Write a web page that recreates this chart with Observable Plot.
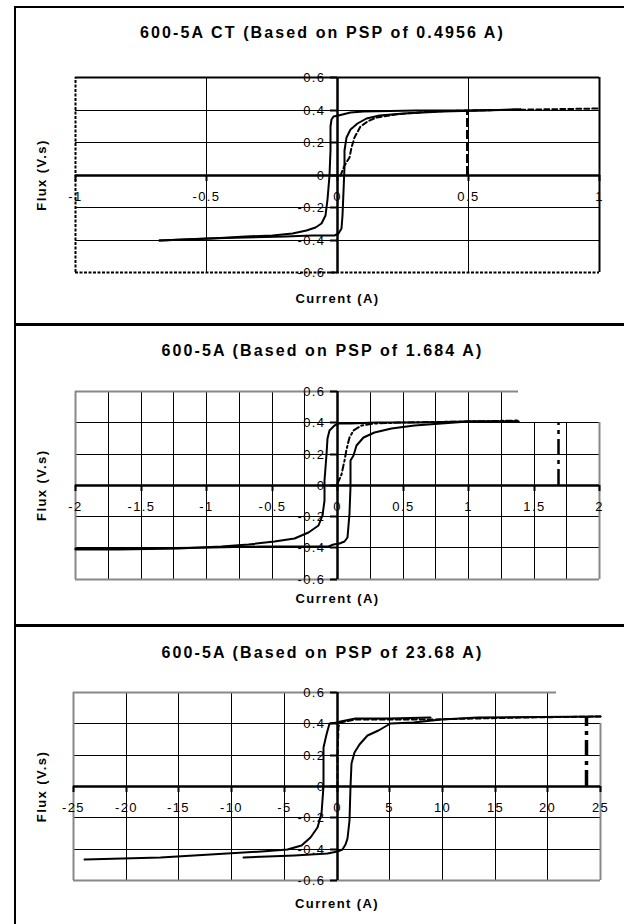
<!DOCTYPE html>
<html>
<head>
<meta charset="utf-8">
<script src="https://cdn.jsdelivr.net/npm/d3@7"></script>
<script src="https://cdn.jsdelivr.net/npm/@observablehq/plot@0.6"></script>
<style>
  body { margin: 0; background: #fff; }
  #root { position: relative; width: 624px; height: 924px; overflow: hidden; font-family: "Liberation Sans", Arial, sans-serif; }
  .bar { position: absolute; background: #000; }
</style>
</head>
<body>
<div id="root"></div>
<script>
// ---------------- DATA ----------------
const titles = [
  "600-5A CT (Based on PSP of 0.4956 A)",
  "600-5A (Based on PSP of 1.684 A)",
  "600-5A (Based on PSP of 23.68 A)"
];
const xLabel = "Current (A)";
const yLabel = "Flux (V.s)";

const xDomains = [[-1, 1], [-2, 2], [-25, 25]];
const yTicks = [0.6, 0.4, 0.2, 0, -0.2, -0.4, -0.6];
const xTicks1 = [-1, -0.5, 0, 0.5, 1];
const xTicks2 = [-2, -1.5, -1, -0.5, 0, 0.5, 1, 1.5, 2];
const xTicks3 = [-25, -20, -15, -10, -5, 0, 5, 10, 15, 20, 25];
const xGrid1 = [-0.5, 0.5];
const xGrid2 = [-1.75, -1.5, -1.25, -1, -0.75, -0.5, -0.25, 0.25, 0.5, 0.75, 1, 1.25, 1.5, 1.75];
const xGrid3 = [-20, -15, -10, -5, 5, 10, 15, 20];
// x value where the top border of each plot area stops
const topEnds = [1, 1.38, 20.8];

// PSP markers (x position and top flux of the vertical line)
const pspValues = [0.4956, 1.684, 23.68];
const pspTops = [0.395, 0.40, 0.44];

// Panel 1 : hysteresis loop branches and initial curve  [current, flux]
const p1Descending = [
  [0.70, 0.402], [0.5, 0.398], [0.3, 0.395], [0.1, 0.39], [0.05, 0.385], [0.02, 0.372],
  [0.005, 0.366], [-0.015, 0.362], [-0.022, 0.34], [-0.025, 0.30], [-0.028, 0.15],
  [-0.032, 0.0], [-0.038, -0.15], [-0.045, -0.25], [-0.06, -0.30], [-0.085, -0.322],
  [-0.12, -0.342], [-0.17, -0.36], [-0.25, -0.372], [-0.35, -0.38], [-0.48, -0.39], [-0.68, -0.40]
];
const p1Ascending = [
  [-0.68, -0.40], [-0.5, -0.393], [-0.35, -0.385], [-0.2, -0.376], [-0.1, -0.372],
  [-0.01, -0.37], [0.005, -0.36], [0.015, -0.33], [0.02, -0.25], [0.022, -0.1],
  [0.025, 0.05], [0.028, 0.15], [0.035, 0.23], [0.05, 0.28], [0.075, 0.315],
  [0.11, 0.345], [0.16, 0.366], [0.25, 0.38], [0.4, 0.39], [0.55, 0.398], [0.70, 0.402]
];
const p1Initial = [
  [0.012, 0.0], [0.025, 0.06], [0.044, 0.11], [0.055, 0.17], [0.063, 0.23], [0.088, 0.30],
  [0.113, 0.33], [0.15, 0.355], [0.22, 0.375], [0.35, 0.39], [0.5, 0.397], [0.75, 0.403], [1.0, 0.41]
];

// Panel 2
const p2Descending = [
  [1.38, 0.41], [1.0, 0.407], [0.6, 0.403], [0.3, 0.40], [0.1, 0.398], [0.01, 0.396],
  [-0.02, 0.38], [-0.06, 0.35], [-0.075, 0.30], [-0.085, 0.20], [-0.097, 0.03],
  [-0.10, -0.10], [-0.117, -0.195], [-0.147, -0.258], [-0.224, -0.305], [-0.326, -0.338],
  [-0.48, -0.358], [-0.68, -0.38], [-0.885, -0.392], [-1.216, -0.403], [-1.674, -0.41], [-2.0, -0.412]
];
const p2Ascending = [
  [-2.0, -0.405], [-1.5, -0.402], [-0.96, -0.397], [-0.58, -0.39], [-0.07, -0.39],
  [-0.03, -0.38], [0.018, -0.37], [0.056, -0.36], [0.08, -0.333], [0.094, -0.18],
  [0.10, -0.01], [0.10, 0.157], [0.12, 0.19], [0.145, 0.253], [0.196, 0.306],
  [0.285, 0.338], [0.412, 0.36], [0.59, 0.38], [0.794, 0.395], [1.0, 0.405], [1.38, 0.41]
];
const p2Initial = [
  [0.003, 0.01], [0.03, 0.07], [0.05, 0.16], [0.069, 0.23], [0.094, 0.306], [0.12, 0.35],
  [0.18, 0.38], [0.285, 0.398], [0.5, 0.402], [1.0, 0.408], [1.38, 0.412]
];

// Panel 3
const p3Descending = [
  [8.9, 0.44], [5, 0.437], [1.8, 0.432], [0.3, 0.415], [0, 0.41], [-0.73, 0.40],
  [-1.04, 0.33], [-1.26, 0.25], [-1.32, 0.0], [-1.5, -0.174], [-1.83, -0.26],
  [-2.5, -0.323], [-3.4, -0.377], [-4.7, -0.40], [-7.2, -0.415], [-12, -0.437],
  [-16.7, -0.455], [-24, -0.468]
];
const p3Ascending = [
  [-8.9, -0.455], [-4.05, -0.44], [-0.9, -0.43], [0, -0.415], [0.5, -0.40], [0.8, -0.37],
  [1.0, -0.33], [1.15, -0.217], [1.27, 0.0], [1.33, 0.145], [1.64, 0.22], [2.1, 0.27],
  [2.9, 0.325], [3.9, 0.357], [5.1, 0.40], [7.3, 0.41], [9.9, 0.425], [13.35, 0.442], [25, 0.447]
];
const p3Initial = [
  [0, 0], [0.05, 0.2], [0.1, 0.38], [0.35, 0.41], [1.8, 0.425], [5, 0.427], [9, 0.428],
  [13, 0.436], [18, 0.44], [25, 0.445]
];

// ---------------- LAYOUT / STYLE ----------------
const xTicksAll = [xTicks1, xTicks2, xTicks3];
const xGridAll = [xGrid1, xGrid2, xGrid3];
const loops = [
  [p1Descending, p1Ascending, p1Initial],
  [p2Descending, p2Ascending, p2Initial],
  [p3Descending, p3Ascending, p3Initial]
];
const layout = [
  {top: 0,   height: 310, mt: 77, mb: 38,   ml: 75, mr: 25, titleY: 32,  xLabelY: 298},
  {top: 310, height: 310, mt: 81, mb: 41.5, ml: 75, mr: 25, titleY: 350, xLabelY: 598},
  {top: 620, height: 304, mt: 72, mb: 44,   ml: 73, mr: 24, titleY: 652, xLabelY: 903}
];
const frameStyles = [
  {top: "#000", right: "#000", left: "#000", bottom: "#000", leftDash: "3,1.5", bottomDash: "3,1.5"},
  {top: "#888", right: "#888", left: "#888", bottom: "#888", leftDash: null, bottomDash: null},
  {top: "#888", right: "#888", left: "#888", bottom: "#888", leftDash: null, bottomDash: null}
];
const initialDash = ["5,3", "6,3,2,3", "5,3"];
const pspDash = ["9,3", "16,5,4,5", "16,5,4,5"];
const pspWidth = [3, 2.5, 3.5];
const W = 624;
const titleCX = 322;
const fluxCX = 41;

const fmt = d => String(d);
const root = document.getElementById("root");

function makePanel(i) {
  const L = layout[i];
  const F = frameStyles[i];
  const [x0, x1] = xDomains[i];
  const topEnd = topEnds[i];
  const yGrid = yTicks.filter(v => v !== 0 && Math.abs(v) !== 0.6);
  const yMax = d3.max(yTicks), yMin = d3.min(yTicks);
  const frameCX = (L.ml + W - L.mr) / 2;
  const plotTopPage = L.top + L.mt;
  const plotBottomPage = L.top + L.height - L.mb;
  const [desc, asc, init] = loops[i];

  const marks = [
    // interior grid
    Plot.ruleY(yGrid, {y: d => d, x1: x0, x2: x1, stroke: "#000", strokeWidth: 1}),
    Plot.ruleX(xGridAll[i], {x: d => d, y1: yMin, y2: d => (d > topEnd ? 0.4 : yMax), stroke: "#000", strokeWidth: 1}),
    // frame
    Plot.ruleY([yMax], {y: d => d, x1: x0, x2: topEnd, stroke: F.top, strokeWidth: 2}),
    Plot.ruleY([yMin], {y: d => d, x1: x0, x2: x1, stroke: F.bottom, strokeWidth: 2, strokeDasharray: F.bottomDash}),
    Plot.ruleX([x0], {x: d => d, y1: yMin, y2: yMax, stroke: F.left, strokeWidth: 2, strokeDasharray: F.leftDash}),
    Plot.ruleX([x1], {x: d => d, y1: yMin, y2: topEnd >= x1 ? yMax : 0.4, stroke: F.right, strokeWidth: 2}),
    // axes through the origin
    Plot.ruleY([0], {y: d => d, x1: x0, x2: x1, stroke: "#000", strokeWidth: 2.5}),
    Plot.ruleX([0], {x: d => d, y1: yMin, y2: yMax, stroke: "#000", strokeWidth: 2.5}),
    // tick marks
    Plot.ruleX(xTicksAll[i], {x: d => d, y1: 0, y2: 0, insetTop: 0, insetBottom: -6, stroke: "#000", strokeWidth: 2}),
    Plot.ruleY(yTicks, {y: d => d, x1: 0, x2: 0, insetLeft: -7, insetRight: 0, stroke: "#000", strokeWidth: 2}),
    // tick labels
    Plot.text(xTicksAll[i], {x: d => d, y: 0, dy: 21, text: fmt, fontSize: 13, fill: "#000"}),
    Plot.text(yTicks, {x: 0, y: d => d, dx: -12, textAnchor: "end", text: fmt, fontSize: 13, fill: "#000"}),
    // curves
    Plot.line(desc, {x: d => d[0], y: d => d[1], stroke: "#000", strokeWidth: 2, strokeLinejoin: "round"}),
    Plot.line(asc, {x: d => d[0], y: d => d[1], stroke: "#000", strokeWidth: 2, strokeLinejoin: "round"}),
    Plot.line(init, {x: d => d[0], y: d => d[1], stroke: "#000", strokeWidth: 2, strokeDasharray: initialDash[i]}),
    // PSP marker
    Plot.ruleX([pspValues[i]], {x: d => d, y1: 0, y2: pspTops[i], stroke: "#000", strokeWidth: pspWidth[i], strokeDasharray: pspDash[i]}),
    // titles
    Plot.text([titles[i]], {frameAnchor: "top", textAnchor: "middle", lineAnchor: "middle", dx: titleCX - frameCX, dy: L.titleY - plotTopPage,
      text: d => d, fontSize: 16, fontWeight: "bold", fill: "#000"}),
    Plot.text([xLabel], {frameAnchor: "bottom", textAnchor: "middle", lineAnchor: "middle", dy: L.xLabelY - plotBottomPage,
      text: d => d, fontSize: 13, fontWeight: "bold", fill: "#000"}),
    Plot.text([yLabel], {frameAnchor: "left", textAnchor: "middle", lineAnchor: "middle", dx: fluxCX - L.ml, rotate: -90,
      text: d => d, fontSize: 13, fontWeight: "bold", fill: "#000"})
  ];

  const svg = Plot.plot({
    width: W,
    height: L.height,
    marginTop: L.mt,
    marginBottom: L.mb,
    marginLeft: L.ml,
    marginRight: L.mr,
    x: {domain: xDomains[i], axis: null, round: true},
    y: {domain: [yMin, yMax], axis: null, round: true},
    style: {fontFamily: "'Liberation Sans', Arial, sans-serif", background: "transparent", overflow: "visible"},
    marks
  });
  svg.style.position = "absolute";
  svg.style.left = "0px";
  svg.style.top = L.top + "px";
  svg.style.letterSpacing = "1.4px";
  svg.querySelectorAll("text").forEach(t => {
    if (titles.includes(t.textContent)) t.style.letterSpacing = "2.1px";
  });
  root.appendChild(svg);
}

[0, 1, 2].forEach(makePanel);

// outer chart borders (left edge, top edge, panel separators)
const bars = [
  {left: 13.5, top: 5.5, width: 2.5, height: 930},
  {left: 13.5, top: 5.5, width: 620, height: 2},
  {left: 13.5, top: 322.5, width: 620, height: 3},
  {left: 13.5, top: 623.5, width: 620, height: 3}
];
bars.forEach(b => {
  const d = document.createElement("div");
  d.className = "bar";
  Object.assign(d.style, {left: b.left + "px", top: b.top + "px", width: b.width + "px", height: b.height + "px"});
  root.appendChild(d);
});
</script>
</body>
</html>
